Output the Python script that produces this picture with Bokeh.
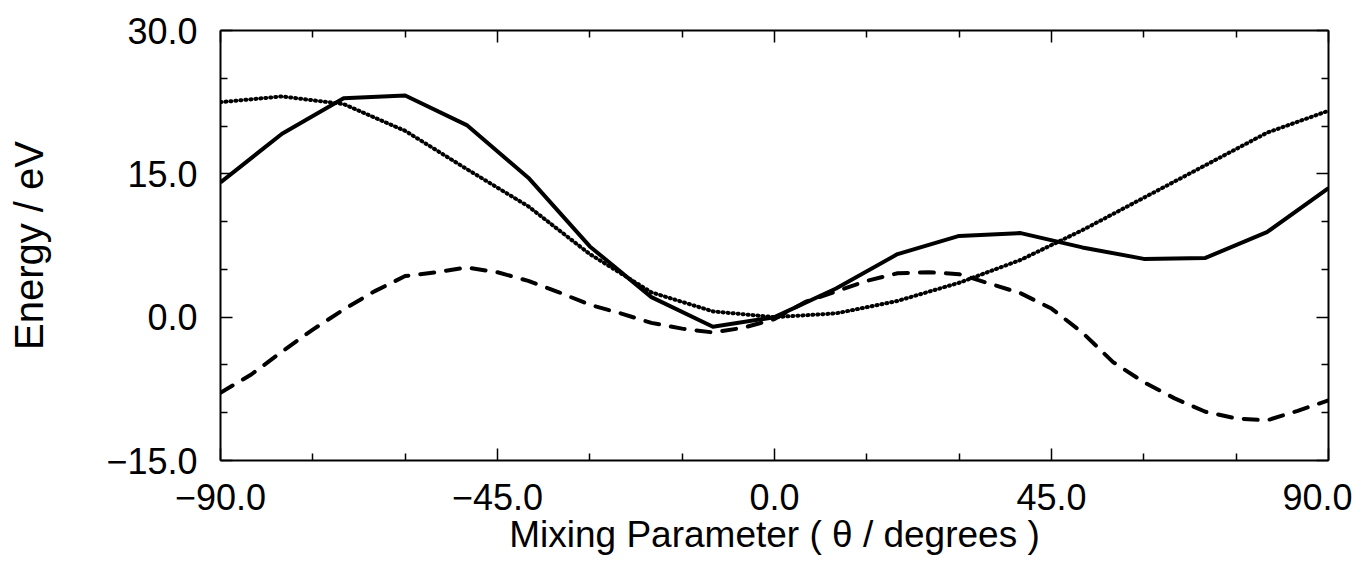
from bokeh.plotting import figure
from bokeh.models import Range1d, LinearAxis, FixedTicker, CustomJSTickFormatter
from bokeh.embed import file_html
from bokeh.resources import INLINE

# ---- data ----
theta = [-90, -80, -70, -60, -50, -40, -30, -20, -10, 0, 10, 20, 30, 40, 50, 60, 70, 80, 90]
solid_energy = [14.1, 19.2, 22.9, 23.2, 20.1, 14.6, 7.4, 2.1, -1.0, 0.0, 3.0, 6.6, 8.5, 8.8, 7.3, 6.1, 6.2, 8.9, 13.5]
dotted_energy = [22.5, 23.1, 22.3, 19.5, 15.5, 11.6, 6.6, 2.6, 0.6, 0.0, 0.4, 1.7, 3.6, 6.0, 9.1, 12.5, 15.9, 19.3, 21.6]
theta_fine = [-90, -85, -80, -75, -70, -65, -60, -55, -50, -45, -40, -35, -30, -25, -20, -15, -10, -5, 0,
              5, 10, 15, 20, 25, 30, 35, 40, 45, 50, 55, 60, 65, 70, 75, 80, 85, 90]
dashed_energy = [-7.9, -6.0, -3.6, -1.3, 0.8, 2.7, 4.3, 4.7, 5.2, 4.7, 3.8, 2.6, 1.3, 0.4, -0.6, -1.2, -1.6, -1.1, -0.2,
                 1.6, 2.7, 3.8, 4.6, 4.7, 4.5, 3.5, 2.5, 0.9, -1.6, -4.7, -6.8, -8.5, -9.9, -10.6, -10.8, -9.8, -8.7]

x_major = [-90, -45, 0, 45, 90]
x_minor = [-75, -60, -30, -15, 15, 30, 60, 75]
x_labels = ["\u221290.0", "\u221245.0", "0.0", "45.0", "90.0"]
y_major = [-15, 0, 15, 30]
y_minor = [-10, -5, 5, 10, 20, 25]
y_labels = ["\u221215.0", "0.0", "15.0", "30.0"]

FONT = "Liberation Sans"

p = figure(width=1352, height=558, output_backend="svg", toolbar_location=None,
           x_range=Range1d(-90, 90), y_range=Range1d(-15, 30),
           min_border_left=220, min_border_right=24, min_border_top=30, min_border_bottom=98)
p.grid.visible = False
p.outline_line_color = None
p.background_fill_color = "white"
p.border_fill_color = "white"

def style_axis(ax, major, minor, labels=None):
    ax.ticker = FixedTicker(ticks=major, minor_ticks=minor)
    ax.axis_line_width = 2
    ax.axis_line_color = "black"
    ax.major_tick_in = 12
    ax.major_tick_out = 0
    ax.minor_tick_in = 7
    ax.minor_tick_out = 0
    ax.major_tick_line_width = 1.5
    ax.minor_tick_line_width = 1.5
    ax.major_tick_line_color = "black"
    ax.minor_tick_line_color = "black"
    if labels is None:
        ax.formatter = CustomJSTickFormatter(code="return ''")
    else:
        ax.major_label_overrides = {t: l for t, l in zip(major, labels)}
        ax.major_label_text_font = FONT
        ax.major_label_text_font_size = "36px"
        ax.major_label_text_color = "black"

xa = p.xaxis[0]
style_axis(xa, x_major, x_minor, x_labels)
xa.major_label_standoff = 23
xa.axis_label = "Mixing Parameter ( \u03b8 / degrees )"
xa.axis_label_text_font = FONT
xa.axis_label_text_font_size = "37px"
xa.axis_label_text_font_style = "normal"
xa.axis_label_text_color = "black"
xa.axis_label_standoff = 1

ya = p.yaxis[0]
style_axis(ya, y_major, y_minor, y_labels)
ya.major_label_standoff = 23
ya.axis_label = "Energy / eV"
ya.axis_label_text_font = FONT
ya.axis_label_text_font_size = "40px"
ya.axis_label_text_font_style = "normal"
ya.axis_label_text_color = "black"
ya.axis_label_standoff = 52

top = LinearAxis()
style_axis(top, x_major, x_minor)
p.add_layout(top, "above")
right = LinearAxis()
style_axis(right, y_major, y_minor)
p.add_layout(right, "right")

p.line(theta, solid_energy, line_color="black", line_width=4, line_join="round")
p.line(theta, dotted_energy, line_color="black", line_width=4, line_dash="1 4", line_cap="round")
p.line(theta_fine, dashed_energy, line_color="black", line_width=4, line_dash="14 12", line_cap="round")

open("out.html", "w").write(file_html(p, INLINE))
